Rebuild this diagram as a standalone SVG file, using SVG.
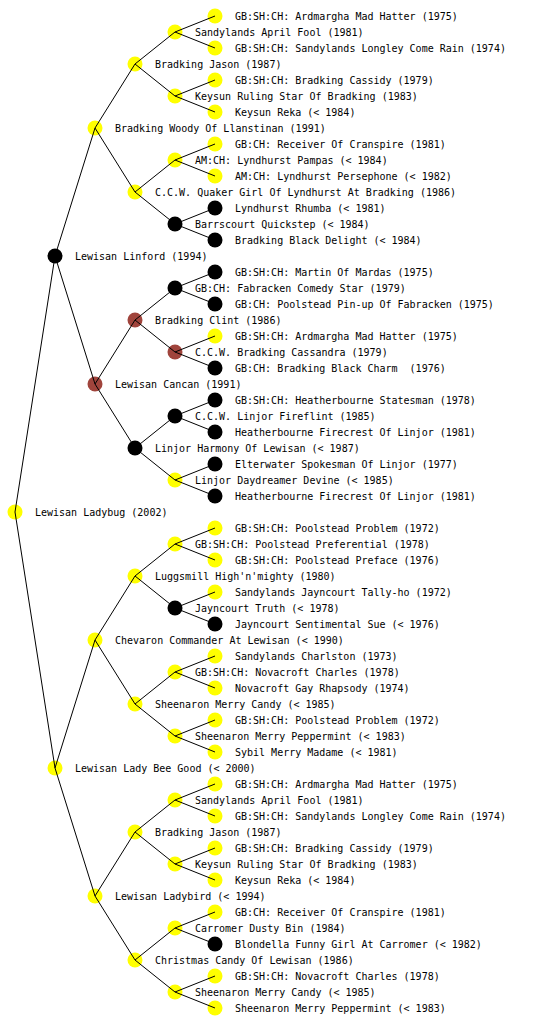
<svg xmlns="http://www.w3.org/2000/svg" width="560" height="1024" viewBox="0 0 560 1024">
<style>
text{font-family:"DejaVu Sans Mono","Liberation Mono",monospace;font-size:10px;fill:#000}
.y{fill:#ffff00}.b{fill:#000}.r{fill:#a0443c}
.c line{stroke:#000;stroke-width:1}
</style>
<rect width="560" height="1024" fill="#fff"/>
<g id="nodes">
<g id="n0"><circle class="y" cx="15" cy="512" r="7.5"/><text x="35" y="516">Lewisan Ladybug (2002)</text></g>
<g id="n1"><circle class="b" cx="55" cy="256" r="7.5"/><text x="75" y="260">Lewisan Linford (1994)</text></g>
<g id="n2"><circle class="y" cx="55" cy="768" r="7.5"/><text x="75" y="772">Lewisan Lady Bee Good (&lt; 2000)</text></g>
<g id="n3"><circle class="y" cx="95" cy="128" r="7.5"/><text x="115" y="132">Bradking Woody Of Llanstinan (1991)</text></g>
<g id="n4"><circle class="r" cx="95" cy="384" r="7.5"/><text x="115" y="388">Lewisan Cancan (1991)</text></g>
<g id="n5"><circle class="y" cx="95" cy="640" r="7.5"/><text x="115" y="644">Chevaron Commander At Lewisan (&lt; 1990)</text></g>
<g id="n6"><circle class="y" cx="95" cy="896" r="7.5"/><text x="115" y="900">Lewisan Ladybird (&lt; 1994)</text></g>
<g id="n7"><circle class="y" cx="135" cy="64" r="7.5"/><text x="155" y="68">Bradking Jason (1987)</text></g>
<g id="n8"><circle class="y" cx="135" cy="192" r="7.5"/><text x="155" y="196">C.C.W. Quaker Girl Of Lyndhurst At Bradking (1986)</text></g>
<g id="n9"><circle class="r" cx="135" cy="320" r="7.5"/><text x="155" y="324">Bradking Clint (1986)</text></g>
<g id="n10"><circle class="b" cx="135" cy="448" r="7.5"/><text x="155" y="452">Linjor Harmony Of Lewisan (&lt; 1987)</text></g>
<g id="n11"><circle class="y" cx="135" cy="576" r="7.5"/><text x="155" y="580">Luggsmill High'n'mighty (1980)</text></g>
<g id="n12"><circle class="y" cx="135" cy="704" r="7.5"/><text x="155" y="708">Sheenaron Merry Candy (&lt; 1985)</text></g>
<g id="n13"><circle class="y" cx="135" cy="832" r="7.5"/><text x="155" y="836">Bradking Jason (1987)</text></g>
<g id="n14"><circle class="y" cx="135" cy="960" r="7.5"/><text x="155" y="964">Christmas Candy Of Lewisan (1986)</text></g>
<g id="n15"><circle class="y" cx="175" cy="32" r="7.5"/><text x="195" y="36">Sandylands April Fool (1981)</text></g>
<g id="n16"><circle class="y" cx="175" cy="96" r="7.5"/><text x="195" y="100">Keysun Ruling Star Of Bradking (1983)</text></g>
<g id="n17"><circle class="y" cx="175" cy="160" r="7.5"/><text x="195" y="164">AM:CH: Lyndhurst Pampas (&lt; 1984)</text></g>
<g id="n18"><circle class="b" cx="175" cy="224" r="7.5"/><text x="195" y="228">Barrscourt Quickstep (&lt; 1984)</text></g>
<g id="n19"><circle class="b" cx="175" cy="288" r="7.5"/><text x="195" y="292">GB:CH: Fabracken Comedy Star (1979)</text></g>
<g id="n20"><circle class="r" cx="175" cy="352" r="7.5"/><text x="195" y="356">C.C.W. Bradking Cassandra (1979)</text></g>
<g id="n21"><circle class="b" cx="175" cy="416" r="7.5"/><text x="195" y="420">C.C.W. Linjor Fireflint (1985)</text></g>
<g id="n22"><circle class="y" cx="175" cy="480" r="7.5"/><text x="195" y="484">Linjor Daydreamer Devine (&lt; 1985)</text></g>
<g id="n23"><circle class="y" cx="175" cy="544" r="7.5"/><text x="195" y="548">GB:SH:CH: Poolstead Preferential (1978)</text></g>
<g id="n24"><circle class="b" cx="175" cy="608" r="7.5"/><text x="195" y="612">Jayncourt Truth (&lt; 1978)</text></g>
<g id="n25"><circle class="y" cx="175" cy="672" r="7.5"/><text x="195" y="676">GB:SH:CH: Novacroft Charles (1978)</text></g>
<g id="n26"><circle class="y" cx="175" cy="736" r="7.5"/><text x="195" y="740">Sheenaron Merry Peppermint (&lt; 1983)</text></g>
<g id="n27"><circle class="y" cx="175" cy="800" r="7.5"/><text x="195" y="804">Sandylands April Fool (1981)</text></g>
<g id="n28"><circle class="y" cx="175" cy="864" r="7.5"/><text x="195" y="868">Keysun Ruling Star Of Bradking (1983)</text></g>
<g id="n29"><circle class="y" cx="175" cy="928" r="7.5"/><text x="195" y="932">Carromer Dusty Bin (1984)</text></g>
<g id="n30"><circle class="y" cx="175" cy="992" r="7.5"/><text x="195" y="996">Sheenaron Merry Candy (&lt; 1985)</text></g>
<g id="n31"><circle class="y" cx="215" cy="16" r="7.5"/><text x="235" y="20">GB:SH:CH: Ardmargha Mad Hatter (1975)</text></g>
<g id="n32"><circle class="y" cx="215" cy="48" r="7.5"/><text x="235" y="52">GB:SH:CH: Sandylands Longley Come Rain (1974)</text></g>
<g id="n33"><circle class="y" cx="215" cy="80" r="7.5"/><text x="235" y="84">GB:SH:CH: Bradking Cassidy (1979)</text></g>
<g id="n34"><circle class="y" cx="215" cy="112" r="7.5"/><text x="235" y="116">Keysun Reka (&lt; 1984)</text></g>
<g id="n35"><circle class="y" cx="215" cy="144" r="7.5"/><text x="235" y="148">GB:CH: Receiver Of Cranspire (1981)</text></g>
<g id="n36"><circle class="y" cx="215" cy="176" r="7.5"/><text x="235" y="180">AM:CH: Lyndhurst Persephone (&lt; 1982)</text></g>
<g id="n37"><circle class="b" cx="215" cy="208" r="7.5"/><text x="235" y="212">Lyndhurst Rhumba (&lt; 1981)</text></g>
<g id="n38"><circle class="b" cx="215" cy="240" r="7.5"/><text x="235" y="244">Bradking Black Delight (&lt; 1984)</text></g>
<g id="n39"><circle class="b" cx="215" cy="272" r="7.5"/><text x="235" y="276">GB:SH:CH: Martin Of Mardas (1975)</text></g>
<g id="n40"><circle class="b" cx="215" cy="304" r="7.5"/><text x="235" y="308">GB:CH: Poolstead Pin-up Of Fabracken (1975)</text></g>
<g id="n41"><circle class="y" cx="215" cy="336" r="7.5"/><text x="235" y="340">GB:SH:CH: Ardmargha Mad Hatter (1975)</text></g>
<g id="n42"><circle class="b" cx="215" cy="368" r="7.5"/><text x="235" y="372" xml:space="preserve">GB:CH: Bradking Black Charm  (1976)</text></g>
<g id="n43"><circle class="b" cx="215" cy="400" r="7.5"/><text x="235" y="404">GB:SH:CH: Heatherbourne Statesman (1978)</text></g>
<g id="n44"><circle class="b" cx="215" cy="432" r="7.5"/><text x="235" y="436">Heatherbourne Firecrest Of Linjor (1981)</text></g>
<g id="n45"><circle class="b" cx="215" cy="464" r="7.5"/><text x="235" y="468">Elterwater Spokesman Of Linjor (1977)</text></g>
<g id="n46"><circle class="b" cx="215" cy="496" r="7.5"/><text x="235" y="500">Heatherbourne Firecrest Of Linjor (1981)</text></g>
<g id="n47"><circle class="y" cx="215" cy="528" r="7.5"/><text x="235" y="532">GB:SH:CH: Poolstead Problem (1972)</text></g>
<g id="n48"><circle class="y" cx="215" cy="560" r="7.5"/><text x="235" y="564">GB:SH:CH: Poolstead Preface (1976)</text></g>
<g id="n49"><circle class="y" cx="215" cy="592" r="7.5"/><text x="235" y="596">Sandylands Jayncourt Tally-ho (1972)</text></g>
<g id="n50"><circle class="b" cx="215" cy="624" r="7.5"/><text x="235" y="628">Jayncourt Sentimental Sue (&lt; 1976)</text></g>
<g id="n51"><circle class="y" cx="215" cy="656" r="7.5"/><text x="235" y="660">Sandylands Charlston (1973)</text></g>
<g id="n52"><circle class="y" cx="215" cy="688" r="7.5"/><text x="235" y="692">Novacroft Gay Rhapsody (1974)</text></g>
<g id="n53"><circle class="y" cx="215" cy="720" r="7.5"/><text x="235" y="724">GB:SH:CH: Poolstead Problem (1972)</text></g>
<g id="n54"><circle class="y" cx="215" cy="752" r="7.5"/><text x="235" y="756">Sybil Merry Madame (&lt; 1981)</text></g>
<g id="n55"><circle class="y" cx="215" cy="784" r="7.5"/><text x="235" y="788">GB:SH:CH: Ardmargha Mad Hatter (1975)</text></g>
<g id="n56"><circle class="y" cx="215" cy="816" r="7.5"/><text x="235" y="820">GB:SH:CH: Sandylands Longley Come Rain (1974)</text></g>
<g id="n57"><circle class="y" cx="215" cy="848" r="7.5"/><text x="235" y="852">GB:SH:CH: Bradking Cassidy (1979)</text></g>
<g id="n58"><circle class="y" cx="215" cy="880" r="7.5"/><text x="235" y="884">Keysun Reka (&lt; 1984)</text></g>
<g id="n59"><circle class="y" cx="215" cy="912" r="7.5"/><text x="235" y="916">GB:CH: Receiver Of Cranspire (1981)</text></g>
<g id="n60"><circle class="b" cx="215" cy="944" r="7.5"/><text x="235" y="948">Blondella Funny Girl At Carromer (&lt; 1982)</text></g>
<g id="n61"><circle class="y" cx="215" cy="976" r="7.5"/><text x="235" y="980">GB:SH:CH: Novacroft Charles (1978)</text></g>
<g id="n62"><circle class="y" cx="215" cy="1008" r="7.5"/><text x="235" y="1012">Sheenaron Merry Peppermint (&lt; 1983)</text></g>
</g>
<g id="connectors" class="c">
<line x1="15" y1="512" x2="55" y2="256"/><line x1="15" y1="512" x2="55" y2="768"/>
<line x1="55" y1="256" x2="95" y2="128"/><line x1="55" y1="256" x2="95" y2="384"/>
<line x1="55" y1="768" x2="95" y2="640"/><line x1="55" y1="768" x2="95" y2="896"/>
<line x1="95" y1="128" x2="135" y2="64"/><line x1="95" y1="128" x2="135" y2="192"/>
<line x1="95" y1="384" x2="135" y2="320"/><line x1="95" y1="384" x2="135" y2="448"/>
<line x1="95" y1="640" x2="135" y2="576"/><line x1="95" y1="640" x2="135" y2="704"/>
<line x1="95" y1="896" x2="135" y2="832"/><line x1="95" y1="896" x2="135" y2="960"/>
<line x1="135" y1="64" x2="175" y2="32"/><line x1="135" y1="64" x2="175" y2="96"/>
<line x1="135" y1="192" x2="175" y2="160"/><line x1="135" y1="192" x2="175" y2="224"/>
<line x1="135" y1="320" x2="175" y2="288"/><line x1="135" y1="320" x2="175" y2="352"/>
<line x1="135" y1="448" x2="175" y2="416"/><line x1="135" y1="448" x2="175" y2="480"/>
<line x1="135" y1="576" x2="175" y2="544"/><line x1="135" y1="576" x2="175" y2="608"/>
<line x1="135" y1="704" x2="175" y2="672"/><line x1="135" y1="704" x2="175" y2="736"/>
<line x1="135" y1="832" x2="175" y2="800"/><line x1="135" y1="832" x2="175" y2="864"/>
<line x1="135" y1="960" x2="175" y2="928"/><line x1="135" y1="960" x2="175" y2="992"/>
<line x1="175" y1="32" x2="215" y2="16"/><line x1="175" y1="32" x2="215" y2="48"/>
<line x1="175" y1="96" x2="215" y2="80"/><line x1="175" y1="96" x2="215" y2="112"/>
<line x1="175" y1="160" x2="215" y2="144"/><line x1="175" y1="160" x2="215" y2="176"/>
<line x1="175" y1="224" x2="215" y2="208"/><line x1="175" y1="224" x2="215" y2="240"/>
<line x1="175" y1="288" x2="215" y2="272"/><line x1="175" y1="288" x2="215" y2="304"/>
<line x1="175" y1="352" x2="215" y2="336"/><line x1="175" y1="352" x2="215" y2="368"/>
<line x1="175" y1="416" x2="215" y2="400"/><line x1="175" y1="416" x2="215" y2="432"/>
<line x1="175" y1="480" x2="215" y2="464"/><line x1="175" y1="480" x2="215" y2="496"/>
<line x1="175" y1="544" x2="215" y2="528"/><line x1="175" y1="544" x2="215" y2="560"/>
<line x1="175" y1="608" x2="215" y2="592"/><line x1="175" y1="608" x2="215" y2="624"/>
<line x1="175" y1="672" x2="215" y2="656"/><line x1="175" y1="672" x2="215" y2="688"/>
<line x1="175" y1="736" x2="215" y2="720"/><line x1="175" y1="736" x2="215" y2="752"/>
<line x1="175" y1="800" x2="215" y2="784"/><line x1="175" y1="800" x2="215" y2="816"/>
<line x1="175" y1="864" x2="215" y2="848"/><line x1="175" y1="864" x2="215" y2="880"/>
<line x1="175" y1="928" x2="215" y2="912"/><line x1="175" y1="928" x2="215" y2="944"/>
<line x1="175" y1="992" x2="215" y2="976"/><line x1="175" y1="992" x2="215" y2="1008"/>
</g>
</svg>
